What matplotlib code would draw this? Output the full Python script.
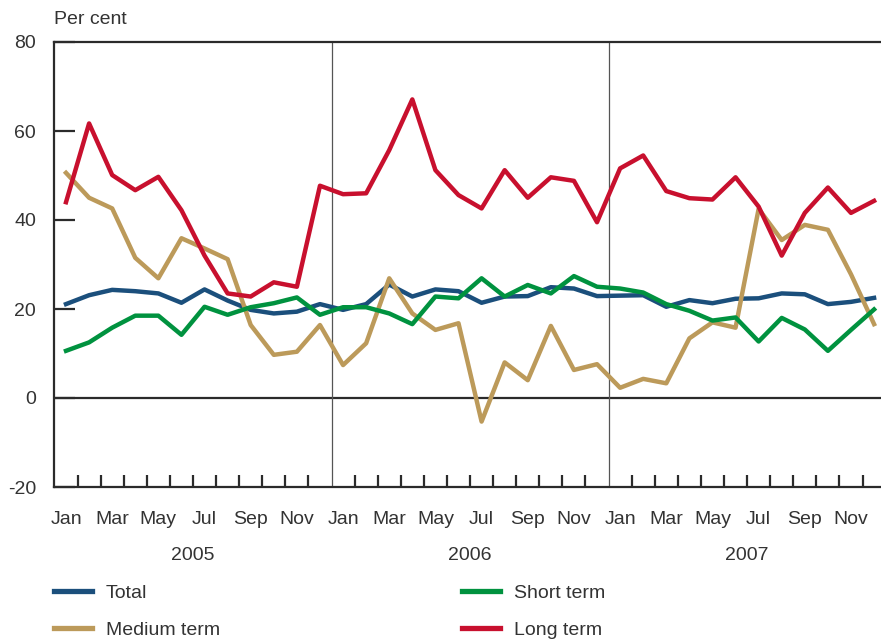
import matplotlib
matplotlib.use("Agg")
import matplotlib.pyplot as plt
from matplotlib.ticker import FixedLocator

plt.rcParams['font.family'] = ['Liberation Sans', 'DejaVu Sans']
plt.rcParams['axes.unicode_minus'] = False

years = ["2005", "2006", "2007"]
month_labels = ["Jan", "Mar", "May", "Jul", "Sep", "Nov"]

total = [21.1, 23.1, 24.3, 24.0, 23.5, 21.4, 24.4, 21.9, 19.8, 19.0, 19.4, 21.1,
         19.8, 21.1, 25.5, 22.8, 24.4, 24.0, 21.4, 22.8, 22.9, 24.9, 24.6, 22.9,
         23.0, 23.1, 20.5, 22.0, 21.3, 22.3, 22.4, 23.5, 23.3, 21.1, 21.6, 22.5]
short_term = [10.6, 12.5, 15.8, 18.5, 18.5, 14.2, 20.5, 18.7, 20.4, 21.3, 22.6, 18.7,
              20.4, 20.4, 19.0, 16.6, 22.8, 22.4, 26.9, 22.8, 25.4, 23.5, 27.4, 25.0,
              24.6, 23.7, 21.1, 19.6, 17.4, 18.1, 12.7, 18.0, 15.4, 10.6, 15.3, 19.9]
medium_term = [50.6, 45.0, 42.6, 31.5, 26.9, 35.9, 33.6, 31.2, 16.4, 9.7, 10.4, 16.4,
               7.4, 12.3, 26.9, 19.0, 15.3, 16.8, -5.3, 8.0, 4.0, 16.2, 6.3, 7.6,
               2.3, 4.3, 3.3, 13.4, 17.0, 15.8, 42.5, 35.5, 38.9, 37.8, 27.8, 16.6]
long_term = [44.0, 61.7, 50.1, 46.7, 49.7, 42.2, 32.0, 23.5, 22.8, 26.0, 25.0, 47.7,
             45.8, 46.0, 55.7, 67.1, 51.2, 45.6, 42.6, 51.2, 45.0, 49.6, 48.8, 39.5,
             51.6, 54.5, 46.5, 44.9, 44.6, 49.6, 43.0, 32.0, 41.6, 47.3, 41.6, 44.3]

c_total = "#1b4f7c"
c_short = "#00923f"
c_medium = "#bc9a5a"
c_long = "#c8102e"
c_axis = "#2b2b2b"
c_text = "#333333"
fs = 14

fig = plt.figure(figsize=(8.81, 6.39), dpi=100)
ax = fig.add_axes([54/881, 1-487/639, 1-54/881, (487-42)/639])

x = list(range(len(total)))
lw = 3.2
l1, = ax.plot(x, total, color=c_total, lw=lw, label="Total")
l2, = ax.plot(x, medium_term, color=c_medium, lw=lw, label="Medium term")
l3, = ax.plot(x, short_term, color=c_short, lw=lw, label="Short term")
l4, = ax.plot(x, long_term, color=c_long, lw=lw, label="Long term")

ax.set_xlim(-0.52, 35.3)
ax.set_ylim(-20, 80)

ax.spines["right"].set_visible(False)
for s in ["left", "top", "bottom"]:
    ax.spines[s].set_color(c_axis)
    ax.spines[s].set_linewidth(1.6)

ax.axhline(0, color=c_axis, lw=1.6, zorder=1)
for k in range(1, len(years)):
    ax.axvline(12*k - 0.5, color="#555555", lw=0.9, zorder=1)

ax.set_yticks([-20, 0, 20, 40, 60, 80])
ax.tick_params(axis='y', direction='in', length=15, width=1.6, color=c_axis,
               labelsize=fs, labelcolor=c_text, pad=13)

major_pos = []
major_lab = []
for yi in range(len(years)):
    for mi, m in enumerate(month_labels):
        major_pos.append(12*yi + 2*mi)
        major_lab.append(m)
ax.set_xticks(major_pos)
ax.set_xticklabels(major_lab)
ax.tick_params(axis='x', which='major', length=0, labelsize=fs, labelcolor=c_text, pad=17)
minor = [12*yi + j + 0.5 for yi in range(len(years)) for j in range(11)]
ax.xaxis.set_minor_locator(FixedLocator(minor))
ax.tick_params(axis='x', which='minor', direction='in', length=9, width=1.6, color=c_axis)

for yi, yr in enumerate(years):
    ax.text(12*yi + 5.5, -0.153, yr, transform=ax.get_xaxis_transform(),
            ha='center', va='center', fontsize=fs, color=c_text)

fig.text(54/881, 1-19/639, "Per cent", ha='left', va='center', fontsize=fs, color=c_text)

common = dict(loc='upper left', frameon=False, fontsize=fs, handlelength=1.95,
              handletextpad=0.72, labelspacing=1.0, borderpad=0, borderaxespad=0,
              labelcolor=c_text)
leg1 = fig.legend(handles=[l1, l2], bbox_to_anchor=(54/881, 1-584/639), **common)
leg2 = fig.legend(handles=[l3, l4], bbox_to_anchor=(462/881, 1-584/639), **common)
for lg in (leg1, leg2):
    for h in lg.get_lines():
        h.set_linewidth(3.8)

fig.savefig("out.png", dpi=100)
